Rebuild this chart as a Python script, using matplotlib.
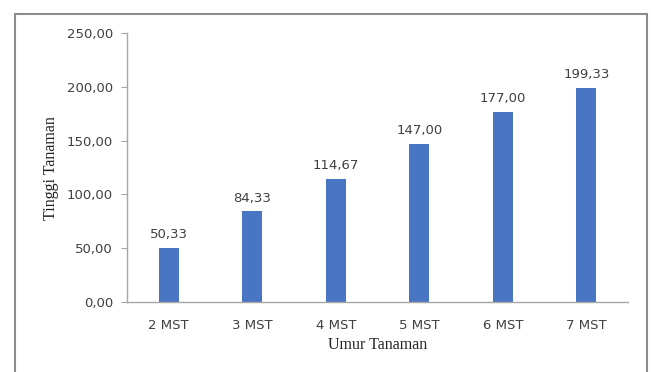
import matplotlib
matplotlib.use("Agg")
import matplotlib.pyplot as plt
from matplotlib.patches import Rectangle

# plant height per week after planting
umur = ["2 MST", "3 MST", "4 MST", "5 MST", "6 MST", "7 MST"]
tinggi = [50.33, 84.33, 114.67, 147.00, 177.00, 199.33]
y_ticks = [0, 50, 100, 150, 200, 250]

BAR = "#4876C2"
AXIS = "#a6a6a6"
TXT = "#404040"
SANS = "DejaVu Sans"
SERIF = "Liberation Serif"


def koma(v):
    return f"{v:.2f}".replace(".", ",")


fig = plt.figure(figsize=(6.51, 3.72), dpi=100)
ax = fig.add_axes([0.195, 0.188, 0.770, 0.723])

x = range(len(umur))
ax.bar(x, tinggi, width=0.24, color=BAR, zorder=2)
for xi, v in zip(x, tinggi):
    ax.text(xi, v + 6, koma(v), ha="center", va="bottom",
            fontsize=9.5, color=TXT, family=SANS)

ax.set_xlim(-0.5, len(umur) - 0.5)
ax.set_ylim(0, 250)
ax.set_yticks(y_ticks)
ax.set_yticklabels([koma(t) for t in y_ticks], family=SANS, fontsize=9.5, color=TXT)
ax.set_xticks(list(x))
ax.set_xticklabels(umur, family=SANS, fontsize=9.5, color=TXT)
ax.tick_params(axis="y", length=4, color=AXIS, pad=6)
ax.tick_params(axis="x", length=0, pad=12)

for s in ("top", "right"):
    ax.spines[s].set_visible(False)
for s in ("left", "bottom"):
    ax.spines[s].set_color(AXIS)
    ax.spines[s].set_linewidth(1.0)

ax.set_ylabel("Tinggi Tanaman", family=SERIF, fontsize=11.5, color="#222222")
ax.yaxis.set_label_coords(-0.135, 0.5)
ax.set_xlabel("Umur Tanaman", family=SERIF, fontsize=11.5, color="#222222", labelpad=4)

# chart frame
fig.patches.append(Rectangle((15 / 651, -0.05), 632 / 651, 1.012, transform=fig.transFigure,
                             fill=False, edgecolor="#8c8c8c", linewidth=1.5))

fig.savefig("out.png", dpi=100)
